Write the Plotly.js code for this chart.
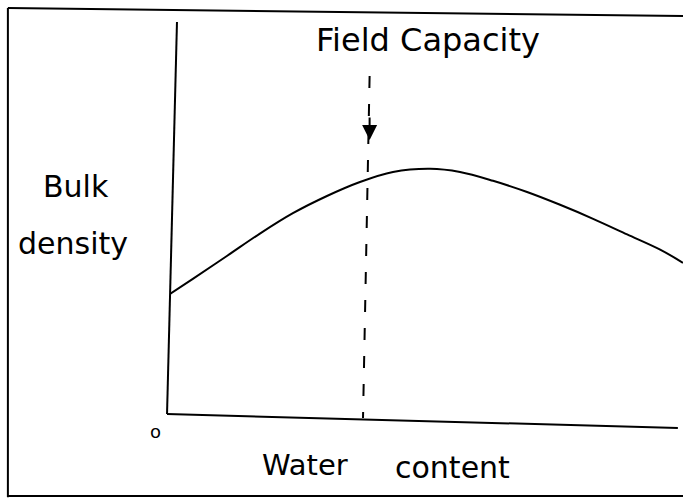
<!DOCTYPE html>
<html>
<head>
<meta charset="utf-8">
<script src="https://cdn.plot.ly/plotly-3.0.1.min.js"></script>
<style>html,body{margin:0;padding:0;background:#fff;}#chart{width:683px;height:502px;}</style>
</head>
<body>
<div id="chart"></div>
<script>
// Sketched relation: bulk density vs water content (arbitrary units)
const waterContent = [0.0, 0.45, 1.12, 1.77, 2.42, 3.09, 3.74, 4.39, 5.12, 5.71, 6.36, 7.03, 7.68, 8.33, 9.0, 9.65, 10.1];
const bulkDensity  = [3.15, 3.53, 4.1, 4.66, 5.17, 5.6, 5.95, 6.2, 6.28, 6.2, 5.98, 5.7, 5.38, 5.03, 4.64, 4.26, 3.93];
const fieldCapacityX = [3.93, 3.8];
const fieldCapacityY = [8.6, 0.05];
const labels = {title: "Field Capacity", yLabel1: "Bulk", yLabel2: "density", xLabel1: "Water", xLabel2: "content", origin: "o"};

const font = {family: "DejaVu Sans, sans-serif", color: "#000"};
function f(size) { return Object.assign({size: size}, font); }

const traces = [
  {x: waterContent, y: bulkDensity, mode: "lines", line: {color: "#000", width: 2, shape: "spline", smoothing: 1}, hoverinfo: "skip"},
  {x: fieldCapacityX, y: fieldCapacityY, mode: "lines", line: {color: "#000", width: 2, dash: "12px,16px"}, hoverinfo: "skip"}
];

const blk = {color: "#000", width: 2};
function lab(px, py, text, size) {
  return {xref: "paper", yref: "paper", x: (px - 170) / 513, y: (420 - py) / 400, text: text,
          showarrow: false, xanchor: "center", yanchor: "middle", font: f(size)};
}
const layout = {
  width: 683, height: 502,
  margin: {l: 170, r: 0, t: 20, b: 82},
  paper_bgcolor: "#fff", plot_bgcolor: "#fff",
  showlegend: false,
  xaxis: {range: [0, 10.1], visible: false, fixedrange: true},
  yaxis: {range: [0, 10], visible: false, fixedrange: true},
  shapes: [
    // frame
    {type: "line", xref: "paper", yref: "paper", x0: -0.316, y0: 1.03, x1: -0.316, y1: -0.193, line: blk},
    {type: "line", xref: "paper", yref: "paper", x0: -0.316, y0: 1.03, x1: 1.0, y1: 1.01, line: blk},
    {type: "line", xref: "paper", yref: "paper", x0: -0.316, y0: -0.19, x1: 1.0, y1: -0.19, line: blk},
    // hand-drawn axes
    {type: "line", xref: "paper", yref: "paper", x0: 0.0136, y0: 0.995, x1: -0.0058, y1: 0.015, line: blk},
    {type: "line", xref: "paper", yref: "paper", x0: -0.0058, y0: 0.015, x1: 0.99, y1: -0.02, line: blk}
  ],
  annotations: [
    {x: 3.93, y: 7.0, xref: "x", yref: "y", text: "", showarrow: true, arrowhead: 2, arrowsize: 1.5, arrowwidth: 2, arrowcolor: "#000", ax: 0, ay: -24},
    lab(428, 40, labels.title, 32),
    lab(76, 186, labels.yLabel1, 30),
    lab(73, 243, labels.yLabel2, 30),
    lab(305, 465, labels.xLabel1, 29),
    lab(452, 467, labels.xLabel2, 30),
    lab(155, 431, labels.origin, 18)
  ]
};

Plotly.newPlot("chart", traces, layout, {staticPlot: true, displayModeBar: false});
</script>
</body>
</html>
